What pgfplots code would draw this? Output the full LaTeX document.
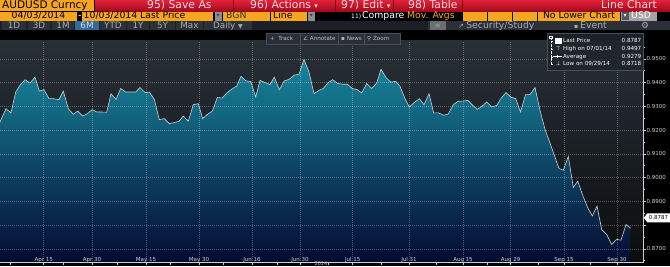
\documentclass[border=0pt]{standalone}
\usepackage{fontspec}
\setmainfont{DejaVu Sans}
\usepackage{pgfplots}
\pgfplotsset{compat=1.18}
\usepackage{pgfplotstable}

\definecolor{bbOrange}{HTML}{F7A51C}
\definecolor{bbRedTop}{HTML}{E3223A}
\definecolor{bbRedBot}{HTML}{A30A1E}
\definecolor{bbRedLine}{HTML}{7A0612}
\definecolor{bbRedText}{HTML}{F6DCDC}
\definecolor{bbGreyBox}{HTML}{8E8E8E}
\definecolor{bbTabBg}{HTML}{1C2026}
\definecolor{bbTab}{HTML}{2C3138}
\definecolor{bbTabText}{HTML}{A9AFB6}
\definecolor{bbTabSel}{HTML}{336A96}
\definecolor{bgTop}{HTML}{283037}
\definecolor{bgBot}{HTML}{0B0C0E}
\definecolor{fillTop}{HTML}{18869C}
\definecolor{fillBot}{HTML}{040B32}
\definecolor{lineCol}{HTML}{C8D2D9}
\definecolor{tickCol}{HTML}{CFCFCF}
\definecolor{legBg}{HTML}{1E252B}
\definecolor{legBorder}{HTML}{474E55}
\definecolor{toolBg}{HTML}{2A2F35}
\definecolor{toolText}{HTML}{B8BEC4}

\pgfplotstableread{
x y
0 0.9234
6 0.9290
11 0.9272
15.7 0.9360
20 0.9388
25 0.9412
30 0.9398
35 0.9423
39.3 0.9364
44 0.9370
49 0.9332
53.3 0.9332
59 0.9328
63.3 0.9364
68.3 0.9290
73.3 0.9266
77.7 0.9280
82.7 0.9259
87.3 0.9269
92.3 0.9286
96.7 0.9276
101.7 0.9276
106.7 0.9275
111 0.9353
116 0.9329
120.7 0.9375
125.7 0.9360
130.7 0.9360
135.7 0.9360
140 0.9379
145 0.9358
149.3 0.9360
154.3 0.9329
159.3 0.9244
164.3 0.9248
169.3 0.9227
174 0.9231
179 0.9237
183.3 0.9259
188.3 0.9237
193.3 0.9307
198.3 0.9311
202.7 0.9248
207.3 0.9266
212.3 0.9279
217.3 0.9337
222.3 0.9335
226.7 0.9356
231.7 0.9372
236.7 0.9385
241 0.9426
246 0.9407
250.7 0.9405
255.7 0.9339
260 0.9409
265 0.9400
270 0.9391
274.3 0.9423
279.3 0.9370
284.3 0.9407
289.3 0.9414
294 0.9431
299 0.9435
304 0.9497
309 0.9444
314 0.9353
319 0.9367
323.3 0.9375
328.3 0.9400
332.7 0.9412
337.7 0.9396
342.7 0.9393
347.3 0.9393
352.3 0.9375
357.3 0.9370
361.7 0.9356
366.7 0.9396
371.7 0.9375
376.7 0.9398
381 0.9456
386 0.9421
390.7 0.9402
395.7 0.9405
400 0.9384
405 0.9332
409.3 0.9297
414.3 0.9316
419.3 0.9332
424 0.9307
429 0.9353
433.7 0.9272
438.7 0.9272
443.7 0.9262
448.3 0.9268
453.3 0.9307
458 0.9321
463 0.9322
467.7 0.9325
472.7 0.9304
477.3 0.9287
482.3 0.9301
486.7 0.9318
491.7 0.9297
496.7 0.9304
501.3 0.9335
506 0.9358
510.7 0.9339
515.7 0.9332
520.5 0.9276
525.5 0.9349
530 0.9349
535 0.9379
540 0.9283
545 0.9203
550 0.9145
554.3 0.9094
559 0.9038
563.3 0.9031
568.3 0.9089
573.3 0.8958
577.7 0.8985
582.7 0.8925
587.7 0.8873
592.3 0.8838
597 0.8880
601.7 0.8781
606.7 0.8760
611.7 0.8718
616.7 0.8740
621 0.8736
626 0.8802
630.7 0.8787
}\aud

\begin{document}
\begin{tikzpicture}[x=1pt,y=1pt]
\useasboundingbox (0,0) rectangle (670,266);
\fill[black] (0,0) rectangle (670,266);

\begin{axis}[
  at={(0,13.5)}, anchor=south west,
  width=643pt, height=222pt, scale only axis,
  xmin=0, xmax=643, ymin=0.86410, ymax=0.95758,
  axis x line*=bottom, axis y line*=right,
  axis line style={draw=tickCol, line width=0.6pt},
  axis background/.style={top color=bgTop, bottom color=bgBot},
  xtick={43.7,92,146,199,252,300,352.7,409,463,510.7,564,617},
  xticklabels={Apr 15,Apr 30,May 15,May 30,Jun 16,Jun 30,Jul 15,Jul 31,Aug 15,Aug 29,Sep 15,Sep 30},
  minor xtick={10,63,117,170,223,277,328,381,436,487,538,590},
  ytick={0.87,0.88,0.89,0.90,0.91,0.92,0.93,0.94,0.95},
  yticklabels={0.8700,,0.8900,0.9000,0.9100,0.9200,0.9300,0.9400,0.9500},
  minor ytick={0.865,0.875,0.885,0.895,0.905,0.915,0.925,0.935,0.945,0.955},
  tick align=outside,
  major tick length=2.5pt, minor tick length=1.8pt,
  tick style={draw=tickCol, line width=0.5pt},
  grid=major,
  major grid style={draw=white, opacity=0.28, line width=0.45pt, dash pattern=on 0.6pt off 1.4pt},
  ticklabel style={font=\fontsize{5.5}{6}\selectfont, text=tickCol},
  xticklabel style={anchor=north, inner sep=0pt, yshift=8.5pt},
  yticklabel style={anchor=west, inner sep=1pt},
  axis on top,
]
\addplot[draw=none, top color=fillTop, bottom color=fillBot] table {\aud} |- (rel axis cs:0,0) -- cycle;
\addplot[color=lineCol, line width=0.6pt] table {\aud};
\end{axis}

% last price tag
\fill[white] (643.8,48.2) -- (647.3,52.7) -- (670,52.7) -- (670,43.7) -- (647.3,43.7) -- cycle;
\node[font=\fontsize{5.5}{6}\selectfont, text=black, inner sep=0pt] at (658.5,48.2) {0.8787};

% year label
\node[font=\fontsize{5}{5}\selectfont, text=tickCol, anchor=south, inner sep=0pt] at (321,0.4) {2014};

% ---------- header row 1 ----------
\fill[bbOrange] (0,255) rectangle (94,266);
\shade[top color=bbRedTop, bottom color=bbRedBot] (95,255) rectangle (670,266);
\foreach \xx in {233,335,393,462} \draw[bbRedLine, line width=1pt] (\xx,255) -- (\xx,266);
\node[anchor=base west, inner sep=0pt, font=\fontsize{10.5}{11}\selectfont, text=black] at (2,257.4) {AUDUSD Curncy};
\begin{scope}[every node/.style={anchor=base west, inner sep=0pt, font=\fontsize{10.8}{11}\selectfont, text=bbRedText}]
\node at (147,257.4) {95) Save As};
\node at (250,257.4) {96) Actions \fontsize{7}{7}\selectfont▾};
\node at (341,257.4) {97) Edit \fontsize{7}{7}\selectfont▾};
\node at (408,257.4) {98) Table};
\node[anchor=base east] at (657,257.4) {Line Chart};
\end{scope}

% ---------- header row 2 ----------
\begin{scope}[every node/.style={anchor=base west, inner sep=0pt, font=\fontsize{9.3}{10}\selectfont, text=black}]
\fill[bbOrange] (0,245.5) rectangle (77,254.5);
\node[anchor=base] at (38.5,247.4) {04/03/2014};
\node[text=white] at (78,247.4) {-};
\fill[bbOrange] (82,245.5) rectangle (213,254.5);
\node at (83.5,247.4) {10/03/2014 Last Price};
\fill[bbGreyBox] (214.5,245.5) rectangle (222,254.5);
\node[anchor=base, font=\fontsize{6}{6}\selectfont, text=black!75] at (218.2,248.2) {▾};
\fill[bbOrange] (223,245.5) rectangle (270,254.5);
\node[text=black!80] at (226,247.4) {BGN};
\fill[bbOrange] (271,245.5) rectangle (307,254.5);
\node at (273,247.4) {Line};
\fill[bbGreyBox] (308,245.5) rectangle (315,254.5);
\node[anchor=base, font=\fontsize{6}{6}\selectfont, text=black!75] at (311.5,248.2) {▾};
\node[text=white, font=\fontsize{6}{6}\selectfont] at (351,247.4) {11)};
\node[text=white] at (362,247.4) {Compare};
\node[text=bbOrange] at (407,247.4) {Mov. Avgs};
\fill[bbOrange] (463,245.5) rectangle (487,254.5);
\fill[bbOrange] (488,245.5) rectangle (512,254.5);
\fill[bbOrange] (513,245.5) rectangle (537,254.5);
\fill[bbOrange] (538,245.5) rectangle (620,254.5);
\node[anchor=base] at (579,247.4) {No Lower Chart};
\fill[bbGreyBox!80] (621,245.5) rectangle (657,254.5);
\fill[bbGreyBox!60!black] (621.5,246) rectangle (629,254);
\node[anchor=base, font=\fontsize{6}{6}\selectfont, text=white] at (625.2,248.2) {▾};
\node[text=white] at (631,247.4) {USD};
\end{scope}

% ---------- header row 3 ----------
\fill[bbTabBg] (0,236) rectangle (670,245.5);
\begin{scope}[every node/.style={anchor=base, inner sep=0pt, font=\fontsize{8.8}{9}\selectfont, text=bbTabText}]
\foreach \a/\b/\t in {2/26/1D,28/50/3D,52/74/1M,100/126/YTD,127/149/1Y,150/175/5Y,176/203/Max}{
  \fill[bbTab] (\a,236.5) rectangle (\b,245);
  \node at ({(\a+\b)/2},238) {\t};
}
\fill[bbTabSel] (75,236.5) rectangle (99,245);
\node[text=white!85!blue] at (87,238) {6M};
\fill[bbTab] (204,236.5) rectangle (252,245);
\node at (228,238) {Daily \fontsize{6}{6}\selectfont▼};
\fill[bbTab] (428,236) rectangle (670,245.5);
\fill[bbTab!70!white] (430,236.5) rectangle (446,245);
\node at (438,238) {«};
\node[anchor=base west] at (458,238) {\fontsize{7}{7}\selectfont↗\ \fontsize{9.3}{9}\selectfont Security/Study};
\node[anchor=base west] at (574,238) {\fontsize{6}{6}\selectfont▪\ \fontsize{9.3}{9}\selectfont Event};
\node at (645,238) {⚙};
\end{scope}

% ---------- toolbar in chart ----------
\fill[toolBg] (266,222) rectangle (400,233);
\draw[legBorder, line width=0.4pt] (266,222) rectangle (400,233);
\foreach \xx in {300,338,364} \draw[legBorder, line width=0.4pt] (\xx,222.5) -- (\xx,232.5);
\begin{scope}[every node/.style={anchor=base west, inner sep=0pt, font=\fontsize{5.6}{6}\selectfont, text=toolText}]
\node at (270,225.6) {+ \ Track};
\node at (303,225.6) {∠ Annotate};
\node at (341,225.6) {▪ News};
\node at (367,225.6) {⚲ Zoom};
\end{scope}

% ---------- legend box ----------
\fill[legBg, opacity=0.9] (547,195.5) rectangle (643,233);
\draw[legBorder, line width=0.4pt] (547,195.5) rectangle (643,233);
\draw[white!70, line width=0.4pt, dash pattern=on 0.6pt off 0.8pt] (551,228) -- (551,202);
\foreach \yy in {225,217,209.3,202} \draw[white!70, line width=0.4pt] (551,\yy) -- (553,\yy);
\draw[white!70, line width=0.4pt] (549.5,227.5) rectangle (552.5,230);
\fill[white] (555,222) rectangle (561.5,228.5);
\begin{scope}[every node/.style={inner sep=0pt, font=\fontsize{5.6}{6}\selectfont, text=white!92}]
\node[anchor=base] at (558.3,215.1) {⊤};
\draw[white!85, line width=0.5pt] (553,209.3) -- (562,209.3);
\draw[white!85, line width=0.5pt] (557.5,207.8) -- (557.5,210.8);
\node[anchor=base] at (558.3,200.1) {⊥};
\node[anchor=base west] at (563,223.1) {Last Price};
\node[anchor=base west] at (563,215.1) {High on 07/01/14};
\node[anchor=base west] at (563,207.4) {Average};
\node[anchor=base west] at (563,200.1) {Low on 09/29/14};
\node[anchor=base east] at (641.5,223.1) {0.8787};
\node[anchor=base east] at (641.5,215.1) {0.9497};
\node[anchor=base east] at (641.5,207.4) {0.9279};
\node[anchor=base east] at (641.5,200.1) {0.8718};
\end{scope}
\end{tikzpicture}
\end{document}
